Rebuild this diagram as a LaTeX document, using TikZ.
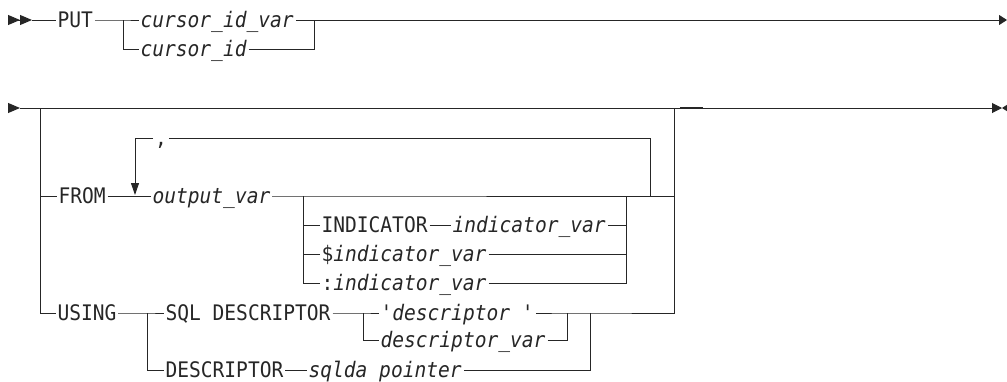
\documentclass[tikz,border=0pt]{standalone}
\usepackage{fontspec}
\setmonofont{DejaVu Sans Mono}[FakeStretch=0.915]
\usetikzlibrary{arrows.meta, positioning}
\newcommand{\synfont}{\fontsize{21.4}{24}\selectfont\ttfamily}
\tikzset{
  % binario del diagramma
  rail/.style={line width=1pt, black!85},
  % parola chiave
  kw/.style={font=\synfont, inner xsep=1.5pt, inner ysep=0pt, text height=18.4pt,
    text depth=2.8pt, anchor=west},
  % variabile
  var/.style={kw, font=\synfont\itshape},
  % punte di inizio e fine
  tip/.style={-{Triangle[length=12pt, width=10pt]}},
  tiptwo/.style={-{Triangle[length=12pt, width=10pt]Triangle[length=12pt, width=10pt]}},
  tipend/.style={-{Triangle[length=8pt, width=10pt]}},
  % freccia della ripetizione
  loop/.style={-{Triangle[length=12pt, width=8pt]}},
}

\begin{document}
\begin{tikzpicture}[x=1pt, y=-1pt, rail]
  \useasboundingbox (0,0) rectangle (1007,381);
  % riga 1
  \coordinate (a0) at (8,20);
  \coordinate (a1) at (32,20);
  \node[kw] (put) at (55.5,20) {PUT};
  \coordinate (b1) at (123,20);
  \node[var] (cidv) at (138.5,20) {cursor\_id\_var};
  \node[var] (cid) at (138.5,49) {cursor\_id};
  \coordinate (j1) at (314,20);
  \coordinate (e1) at (1007,20);
  \draw[tiptwo] (a0) -- (a1);
  \draw (a1) -- (put) -- (b1) -- (cidv) -- (j1);
  \draw (b1) |- (cid) -| (j1);
  \draw[tipend] (j1) -- (e1);
  % riga 2
  \coordinate (a2) at (8,108);
  \coordinate (s2) at (20,108);
  \coordinate (l2) at (40,108);
  \coordinate (r2) at (674,108);
  \coordinate (e2) at (1002,108);
  \coordinate (m0) at (680,107.6);
  \coordinate (m1) at (703,107.6);
  \draw[tip] (a2) -- (s2);
  \draw[-{Triangle[length=10pt, width=10pt]}] (s2) -- (e2);
  \fill[black!85] (e2) -- ++(7,-4.5) -- ++(0,9) -- cycle;
  \draw[line width=1.4pt] (m0) -- (m1);
  % FROM
  \node[kw] (from) at (56.5,196) {FROM};
  \coordinate (lp) at (135,195);
  \node[kw] (comma) at (153,138) {,};
  \coordinate (lr) at (650,138);
  \coordinate (lb) at (650,196);
  \node[var] (ov) at (150.5,196) {output\_var};
  \coordinate (b3) at (303,196);
  \node[kw] (ind) at (319.5,225) {INDICATOR};
  \node[var] (iv1) at (450.5,225) {indicator\_var};
  \node[kw] (iv2) at (319.5,254) {\$\itshape indicator\_var};
  \node[kw] (iv3) at (319.5,283) {:\itshape indicator\_var};
  \coordinate (j3) at (626,196);
  \coordinate (r3) at (674,196);
  \draw (l2) |- (from) -- (ov) -- (b3) -- (r3);
  \draw[loop] (comma) -| (lp);
  \draw (comma) -| (lb);
  \draw (b3) |- (ind) -- (iv1) -| (j3);
  \draw (b3) |- (iv2) -| (j3);
  \draw (b3) |- (iv3) -| (j3);
  % USING
  \node[kw] (using) at (55.5,313) {USING};
  \coordinate (b5) at (147,313);
  \node[kw] (sqld) at (163.5,313) {SQL DESCRIPTOR};
  \coordinate (b6) at (363,313);
  \node[var] (dq) at (378.5,313) {'descriptor '};
  \node[var] (dv) at (378.5,340) {descriptor\_var};
  \coordinate (j6) at (567,313);
  \node[kw] (desc) at (163.5,370) {DESCRIPTOR};
  \node[var] (sp) at (306.5,370) {sqlda pointer};
  \coordinate (j5) at (590,313);
  \coordinate (r4) at (674,313);
  \draw (l2) |- (using) -- (b5) -- (sqld) -- (b6) -- (dq) -- (j6) -- (j5) -- (r4) -- (r2);
  \draw (b6) |- (dv) -| (j6);
  \draw (b5) |- (desc) -- (sp) -| (j5);
\end{tikzpicture}
\end{document}
